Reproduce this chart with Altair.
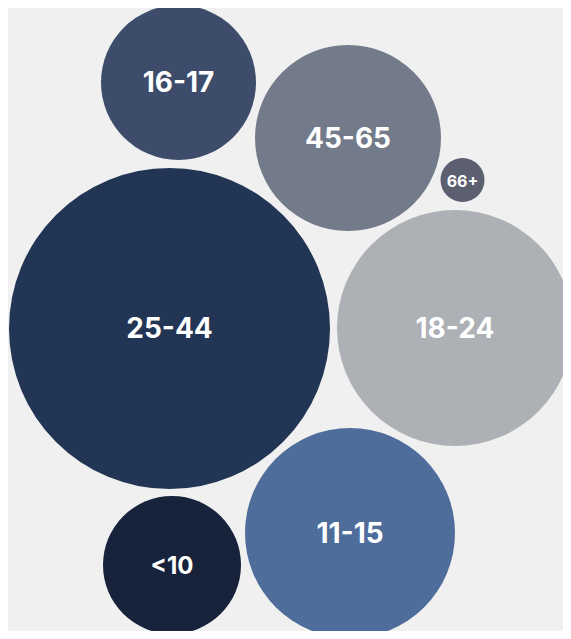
import altair as alt
import pandas as pd

# Age groups of the packed bubbles
labels = ["16-17", "45-65", "66+", "25-44", "18-24", "11-15", "<10"]
# bubble centres (layout units) and radii
cx = [178.5, 348, 462.5, 169.5, 455, 350, 172]
cy = [82.5, 138, 180, 328.5, 328, 533, 565]
radius = [77.5, 93, 22, 160.5, 118, 105, 69]

colors = ["#3c4c6a", "#737a8a", "#5b5f6f", "#223554", "#adb0b5", "#4e6d9b", "#17223b"]
font_sizes = [28, 28, 16, 28, 28, 28, 24]

df = pd.DataFrame({"label": labels, "cx": cx, "cy": cy, "r": radius, "fs": font_sizes})

W, H = 555, 623
xs = alt.Scale(domain=[8, 8 + W], nice=False, zero=False)
ys = alt.Scale(domain=[8, 8 + H], nice=False, zero=False, reverse=True)

base = alt.Chart(df).encode(
    x=alt.X("cx:Q", scale=xs, axis=None),
    y=alt.Y("cy:Q", scale=ys, axis=None),
)

circles = base.transform_calculate(
    d2="4 * datum.r * datum.r"
).mark_point(filled=True, shape="circle", opacity=1, strokeWidth=0).encode(
    size=alt.Size("d2:Q", scale=None, legend=None),
    color=alt.Color("label:N", scale=alt.Scale(domain=labels, range=colors), legend=None),
)

text = base.mark_text(
    font="Inter", fontWeight="bold", color="white", align="center", baseline="middle", dy=1.5
).encode(
    text="label:N",
    size=alt.Size("fs:Q", scale=None, legend=None),
)

chart = alt.layer(circles, text).properties(
    width=W, height=H, padding=0, autosize=alt.AutoSizeParams(type="none")
).configure(background="#f0f0f0").configure_view(stroke=None)

chart.save("out.html", embed_options={"renderer": "svg", "actions": False})
